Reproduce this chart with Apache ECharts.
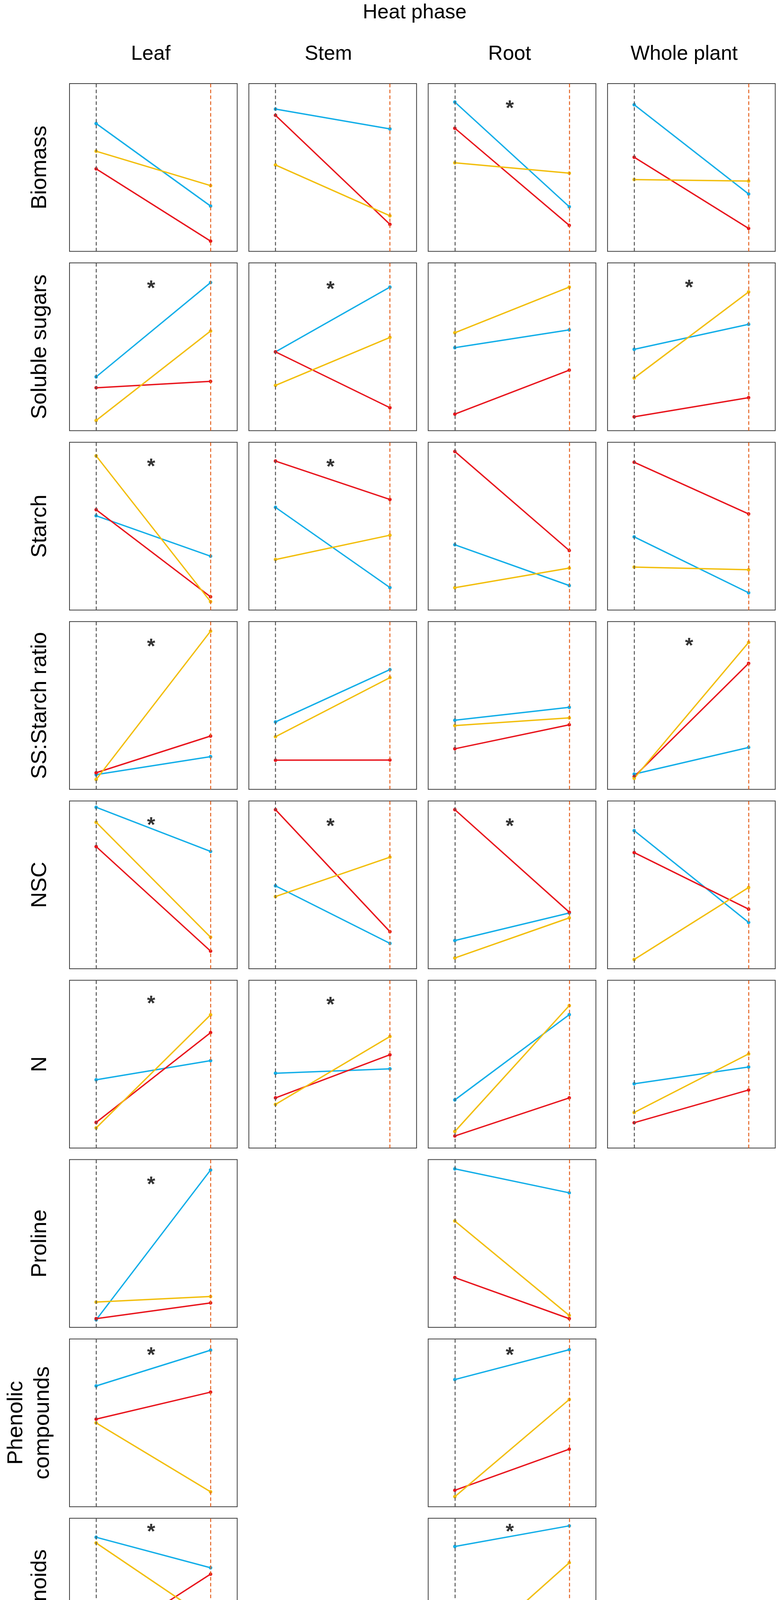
<!DOCTYPE html>
<html lang="en">
<head>
<meta charset="UTF-8">
<title>Heat phase - treatment response</title>
<script src="https://cdn.jsdelivr.net/npm/echarts@6/dist/echarts.min.js"></script>
</head>
<body style="margin:0;background:#fff">
<div id="main" style="width:1995px;height:4977px"></div>
<script>
// panel-relative values (0 = bottom of the panel, 100 = top), [C, H] per tissue
var tissues = ['Leaf', 'Stem', 'Root', 'Whole plant'];
var traits = ['Biomass', 'Soluble sugars', 'Starch', 'SS:Starch ratio', 'NSC', 'N',
    'Proline', 'Phenolic\ncompounds', 'Flavonoids', 'DPPH'];
var treatments = ['C', 'H'];

var blue = [
    [[76.2, 27.0], [84.8, 73.0], [89.0, 26.6], [87.4, 34.2]],
    [[32.1, 88.3], [47.0, 85.6], [49.5, 60.1], [48.5, 63.4]],
    [[56.2, 32.1], [61.2, 13.4], [38.9, 14.6], [43.6, 10.3]],
    [[8.8, 19.5], [40.2, 71.4], [41.2, 48.9], [9.1, 25.0]],
    [[96.2, 69.9], [49.4, 15.1], [16.8, 33.2], [82.3, 27.6]],
    [[40.7, 52.1], [44.6, 47.2], [28.7, 79.5], [38.3, 48.3]],
    [[4.5, 93.8], null, [94.5, 80.2], null],
    [[72.0, 93.3], null, [75.8, 93.6], null],
    [[88.7, 70.5], null, [83.2, 95.5], null],
    [[41.3, 45.5], null, [18.1, 36.2], null]
];
var yellow = [
    [[59.7, 39.2], [51.5, 21.2], [52.8, 46.6], [42.8, 41.9]],
    [[6.1, 59.4], [27.0, 55.6], [58.4, 85.6], [31.4, 82.7]],
    [[91.9, 5.0], [30.1, 44.6], [13.3, 25.0], [25.6, 24.0]],
    [[5.9, 94.3], [31.4, 66.6], [38.0, 42.6], [6.6, 87.6]],
    [[87.3, 18.8], [43.0, 66.5], [6.4, 30.3], [5.5, 48.4]],
    [[12.0, 79.4], [26.0, 66.5], [9.9, 84.9], [21.2, 56.1]],
    [[15.1, 18.4], null, [63.4, 7.1], null],
    [[50.0, 8.9], null, [6.0, 63.9], null],
    [[85.3, 39.2], null, [12.7, 73.5], null],
    [[76.3, 11.5], null, [76.0, 8.0], null]
];
var red = [
    [[49.2, 6.1], [81.1, 16.1], [73.4, 15.5], [56.1, 13.7]],
    [[25.6, 29.4], [47.0, 13.7], [9.9, 36.1], [8.3, 19.7]],
    [[59.8, 7.9], [88.8, 65.9], [94.5, 35.5], [88.1, 57.3]],
    [[9.9, 31.8], [17.4, 17.5], [24.2, 38.5], [7.6, 75.1]],
    [[72.8, 10.5], [94.8, 22.1], [94.8, 33.7], [69.2, 35.5]],
    [[15.3, 68.8], [29.9, 55.6], [7.2, 29.9], [15.1, 34.6]],
    [[5.2, 14.6], null, [29.7, 5.2], null],
    [[52.2, 68.3], null, [9.8, 34.3], null],
    [[22.8, 66.7], null, [4.1, 48.4], null],
    [[93.8, 36.5], null, [83.2, 34.2], null]
];
// significance asterisks (height in the panel), null = none
var stars = [
    [null, null, 88.2, null],
    [87.7, 87.3, null, 88.1],
    [88.4, 88.1, null, null],
    [88.0, null, null, 88.3],
    [88.4, 87.7, 87.7, null],
    [89.0, 88.3, null, null],
    [88.0, null, null, null],
    [93.2, null, 93.2, null],
    [94.8, null, 94.8, null],
    [88.3, null, null, null]
];

var lineColors = {blue: '#12AEE8', yellow: '#F2BE0C', red: '#E8141C'};
var FONT = '"Liberation Sans", Arial, sans-serif';
var LEFT0 = 178, COLSTEP = 459.3, TOP0 = 214, ROWSTEP = 459.1, SIZE = 429.5;

var grids = [], xAxes = [], yAxes = [], series = [];

function addPanel(r, c, hasData) {
    var gi = grids.length;
    grids.push({
        left: LEFT0 + c * COLSTEP, top: TOP0 + r * ROWSTEP,
        width: SIZE, height: SIZE,
        show: hasData, borderColor: '#3c3c3c', borderWidth: 2,
        backgroundColor: 'transparent', containLabel: false
    });
    var last = r === traits.length - 1;
    xAxes.push({
        gridIndex: gi, type: 'value', min: 0.767, max: 2.233,
        axisLine: {show: false}, axisTick: {show: false}, splitLine: {show: false},
        axisLabel: {
            show: last, customValues: [1, 2], margin: 30,
            fontFamily: FONT, fontSize: 56, color: '#000',
            formatter: function (v) { return v < 1.5 ? treatments[0] : treatments[1]; }
        }
    });
    yAxes.push({gridIndex: gi, type: 'value', min: 0, max: 100, show: false, splitLine: {show: false}});
    if (!hasData) return;

    // dashed reference lines at C and H
    series.push({
        type: 'line', xAxisIndex: gi, yAxisIndex: gi, data: [], z: 1, silent: true,
        markLine: {
            silent: true, symbol: ['none', 'none'], label: {show: false}, animation: false,
            data: [
                {xAxis: 1, lineStyle: {color: '#555555', type: [9, 6], width: 2.5}},
                {xAxis: 2, lineStyle: {color: '#E5621F', type: [9, 6], width: 2.5}}
            ]
        }
    });
    [['blue', blue], ['red', red], ['yellow', yellow]].forEach(function (s) {
        var v = s[1][r][c];
        series.push({
            type: 'line', xAxisIndex: gi, yAxisIndex: gi, z: 3,
            data: [[1, v[0]], [2, v[1]]],
            symbol: 'circle', symbolSize: 9, showSymbol: true,
            lineStyle: {color: lineColors[s[0]], width: 3.5},
            itemStyle: {color: lineColors[s[0]]}
        });
    });
    if (stars[r][c] != null) {
        series.push({
            type: 'scatter', xAxisIndex: gi, yAxisIndex: gi, z: 4,
            data: [[1.48, stars[r][c]]], symbolSize: 1,
            itemStyle: {color: 'transparent'},
            label: {
                show: true, position: 'inside', formatter: '*', offset: [0, 14],
                fontFamily: FONT, fontSize: 54, fontWeight: 'bold', color: '#000'
            }
        });
    }
}

for (var r = 0; r < traits.length; r++) {
    for (var c = 0; c < tissues.length; c++) {
        var has = blue[r][c] != null;
        if (has || r === traits.length - 1) addPanel(r, c, has);
    }
}

var graphic = [
    {type: 'text', x: 1062, y: 33, style: {text: 'Heat phase', font: '52px ' + FONT, fill: '#000', align: 'center', verticalAlign: 'middle'}},
    {type: 'text', x: 1063, y: 4952, style: {text: 'Treatment', font: '52px ' + FONT, fill: '#000', align: 'center', verticalAlign: 'middle'}}
];
var headerX = [386, 841, 1305, 1752];
tissues.forEach(function (t, i) {
    graphic.push({type: 'text', x: headerX[i], y: 139, style: {text: t, font: '52px ' + FONT, fill: '#000', align: 'center', verticalAlign: 'middle'}});
});
traits.forEach(function (t, i) {
    var cy = TOP0 + i * ROWSTEP + SIZE / 2;
    var lines = t.split('\n');
    var xs = lines.length === 1 ? [103] : [42, 110];
    lines.forEach(function (ln, k) {
        graphic.push({
            type: 'text', x: xs[k], y: cy, rotation: Math.PI / 2,
            style: {text: ln, font: '56px ' + FONT, fill: '#000', align: 'center', verticalAlign: 'middle'}
        });
    });
});

var chart = echarts.init(document.getElementById('main'));
chart.setOption({
    animation: false,
    backgroundColor: '#ffffff',
    grid: grids,
    xAxis: xAxes,
    yAxis: yAxes,
    series: series,
    graphic: graphic
});
</script>
</body>
</html>
